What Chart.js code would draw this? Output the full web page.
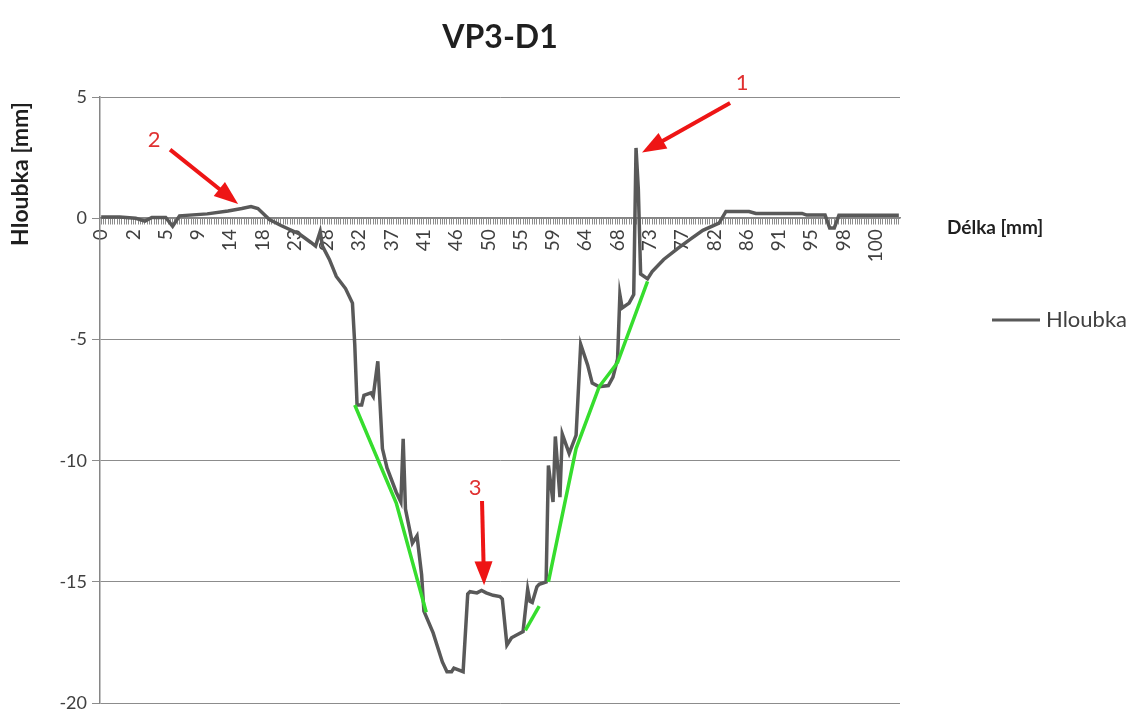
<!DOCTYPE html>
<html>
<head>
<meta charset="utf-8">
<title>VP3-D1</title>
<script src="https://cdn.jsdelivr.net/npm/chart.js@4.4.1/dist/chart.umd.min.js"></script>
<style>
  html, body { margin: 0; padding: 0; background: #ffffff; }
  #wrap { width: 1132px; height: 719px; position: relative; }
</style>
</head>
<body>
<div id="wrap"><canvas id="chart"></canvas></div>
<script>
// Horizontal axis: one sample per tick mark, a distance label every 14 samples
const sampleCount = 347;
const labelEvery = 14;
const distanceLabels = ['0', '2', '5', '9', '14', '18', '23', '28', '32', '37', '41', '46', '50',
  '55', '59', '64', '68', '73', '77', '82', '86', '91', '95', '98', '100'];

// Depth profile "Hloubka" (sample index, depth in mm)
const profileIdx = [0, 8, 15, 19, 22, 28, 31, 34, 46, 55, 61, 65, 68, 73, 78, 86, 91, 93, 95, 96,
  99, 102, 106, 109, 110, 111, 113, 114, 117, 118, 120, 122, 124, 128, 130, 131, 132, 135, 137, 139,
  140, 144, 146, 148, 150, 152, 153, 157, 159, 160, 163, 165, 167, 170, 173, 174, 176, 178, 180, 183,
  185, 186, 187, 189, 190, 193, 194, 196, 197, 199, 200, 203, 206, 208, 211, 213, 216, 220, 222, 224,
  225, 226, 229, 231, 232, 233, 234, 237, 239, 244, 250, 255, 261, 268, 271, 281, 284, 304, 306, 314,
  316, 318, 320, 346];
const profileDepth = [0.05, 0.05, 0.0, -0.12, 0.03, 0.03, -0.33, 0.1, 0.18, 0.3, 0.4, 0.48, 0.4, -0.05, -0.3, -0.65, -1.0, -1.15, -0.55, -1.15,
  -1.7, -2.4, -2.9, -3.5, -5.2, -7.7, -7.7, -7.3, -7.2, -7.35, -5.9, -9.5, -10.3, -11.3, -11.7, -9.1, -12.0, -13.4, -13.1, -14.7,
  -16.2, -17.1, -17.7, -18.3, -18.7, -18.7, -18.55, -18.7, -15.5, -15.4, -15.45, -15.35, -15.45, -15.55, -15.6, -15.7, -17.6, -17.3, -17.2, -17.05,
  -15.3, -15.8, -15.85, -15.2, -15.1, -15.0, -10.2, -11.7, -9.0, -11.5, -8.9, -9.7, -8.95, -5.2, -6.05, -6.8, -6.95, -6.9, -6.55, -5.8,
  -3.15, -3.7, -3.5, -3.15, 2.9, 1.2, -2.3, -2.5, -2.2, -1.7, -1.25, -0.9, -0.5, -0.2, 0.28, 0.28, 0.2, 0.2, 0.13, 0.13,
  -0.4, -0.4, 0.12, 0.12];

// Slope lines fitted along the groove flanks
const slopeLeftIdx = [110, 128, 141];
const slopeLeftDepth = [-7.7, -11.75, -16.25];
const slopeFloorIdx = [184, 190];
const slopeFloorDepth = [-17.0, -16.0];
const slopeRightIdx = [194, 206, 216, 224, 237];
const slopeRightDepth = [-15.0, -9.5, -6.95, -5.95, -2.6];

// Numbered callouts: label position, arrow tail and arrow tip (sample index / depth)
const calloutText = ['1', '2', '3'];
const calloutLabelIdx = [278, 23, 162.2];
const calloutLabelDepth = [5.6, 3.25, -11.14];
const calloutTailIdx = [272.8, 29.9, 165.2];
const calloutTailDepth = [4.75, 2.83, -11.66];
const calloutTipIdx = [234.6, 59.4, 166.1];
const calloutTipDepth = [2.71, 0.59, -15.14];

const FONT = 'Lato, "Open Sans", "Liberation Sans", sans-serif';
const TEXT = '#404040';
const DARK = '#1f1f1f';
const GRID = '#8c8c8c';

const toPoints = (xs, ys) => xs.map((x, i) => ({ x: x, y: ys[i] }));

// Title, axis titles, legend entry and numbered arrows
const decorations = {
  id: 'decorations',
  afterDatasetsDraw(chart) {
    const ctx = chart.ctx;
    const xs = chart.scales.x, ys = chart.scales.y;

    ctx.save();
    for (let i = 0; i < calloutText.length; i++) {
      const tx = xs.getPixelForValue(calloutTailIdx[i]), ty = ys.getPixelForValue(calloutTailDepth[i]);
      const px = xs.getPixelForValue(calloutTipIdx[i]), py = ys.getPixelForValue(calloutTipDepth[i]);
      const dx = px - tx, dy = py - ty, len = Math.hypot(dx, dy);
      const ux = dx / len, uy = dy / len;
      const head = 24, half = 9;
      const bx = px - ux * head, by = py - uy * head;
      ctx.strokeStyle = '#ee1515';
      ctx.fillStyle = '#ee1515';
      ctx.lineWidth = 4;
      ctx.lineCap = 'butt';
      ctx.beginPath();
      ctx.moveTo(tx, ty);
      ctx.lineTo(bx + ux * 2, by + uy * 2);
      ctx.stroke();
      ctx.beginPath();
      ctx.moveTo(px, py);
      ctx.lineTo(bx - uy * half, by + ux * half);
      ctx.lineTo(bx + uy * half, by - ux * half);
      ctx.closePath();
      ctx.fill();

      ctx.fillStyle = '#e03030';
      ctx.font = '22px ' + FONT;
      ctx.textAlign = 'center';
      ctx.textBaseline = 'middle';
      ctx.fillText(calloutText[i], xs.getPixelForValue(calloutLabelIdx[i]), ys.getPixelForValue(calloutLabelDepth[i]));
    }
    ctx.restore();
  },
  afterDraw(chart) {
    const ctx = chart.ctx;
    const ys = chart.scales.y;
    const area = chart.chartArea;
    ctx.save();

    // chart title, centred over the plot area
    ctx.fillStyle = DARK;
    ctx.font = 'bold 32px ' + FONT;
    ctx.textAlign = 'center';
    ctx.textBaseline = 'middle';
    ctx.fillText('VP3-D1', (area.left + area.right) / 2, 38);

    // vertical axis title, rotated
    ctx.font = 'bold 23px ' + FONT;
    ctx.save();
    ctx.translate(21, 174);
    ctx.rotate(-Math.PI / 2);
    ctx.fillText('Hloubka [mm]', 0, 0);
    ctx.restore();

    // horizontal axis title, next to the end of the axis
    ctx.font = 'bold 19px ' + FONT;
    ctx.textAlign = 'left';
    ctx.fillText('Délka [mm]', area.right + 47, ys.getPixelForValue(0) + 10);

    // legend entry for the profile series
    const ds = chart.data.datasets[0];
    const ly = 320;
    ctx.strokeStyle = ds.borderColor;
    ctx.lineWidth = 3;
    ctx.beginPath();
    ctx.moveTo(area.right + 92, ly);
    ctx.lineTo(area.right + 140, ly);
    ctx.stroke();
    ctx.fillStyle = TEXT;
    ctx.font = '22px ' + FONT;
    ctx.fillText(ds.label, area.right + 146, ly);
    ctx.restore();
  }
};

new Chart(document.getElementById('chart'), {
  type: 'line',
  data: {
    datasets: [
      {
        label: 'Hloubka',
        data: toPoints(profileIdx, profileDepth),
        borderColor: '#595959',
        borderWidth: 3.5,
        pointRadius: 0,
        tension: 0,
        order: 2
      },
      {
        label: 'slope-left',
        data: toPoints(slopeLeftIdx, slopeLeftDepth),
        borderColor: '#36dd2e',
        borderWidth: 3.5,
        pointRadius: 0,
        order: 1
      },
      {
        label: 'slope-floor',
        data: toPoints(slopeFloorIdx, slopeFloorDepth),
        borderColor: '#36dd2e',
        borderWidth: 3.5,
        pointRadius: 0,
        order: 1
      },
      {
        label: 'slope-right',
        data: toPoints(slopeRightIdx, slopeRightDepth),
        borderColor: '#36dd2e',
        borderWidth: 3.5,
        pointRadius: 0,
        order: 1
      }
    ]
  },
  options: {
    responsive: true,
    maintainAspectRatio: false,
    animation: false,
    layout: { padding: { left: 0, right: 232, top: 97, bottom: 10 } },
    plugins: {
      legend: { display: false },
      tooltip: { enabled: false },
      title: { display: false }
    },
    scales: {
      x: {
        type: 'linear',
        position: { y: 0 },
        min: -0.5,
        max: sampleCount - 0.5,
        afterBuildTicks(scale) {
          scale.ticks = Array.from({ length: sampleCount }, (_, i) => ({ value: i }));
        },
        afterFit(scale) { scale.height = 0; },
        ticks: {
          autoSkip: false,
          minRotation: 90,
          maxRotation: 90,
          padding: 5,
          color: TEXT,
          font: { family: FONT, size: 19 },
          callback(value) {
            return value % labelEvery === 0 ? (distanceLabels[value / labelEvery] || '') : '';
          }
        },
        grid: {
          drawOnChartArea: false,
          drawTicks: true,
          tickLength: 6,
          color: GRID,
          lineWidth: 1
        },
        border: { display: true, color: '#868686', width: 1.5 }
      },
      y: {
        min: -20,
        max: 5,
        afterFit(scale) { scale.width = 100; },
        ticks: {
          stepSize: 5,
          padding: 5,
          color: TEXT,
          font: { family: FONT, size: 18 }
        },
        grid: {
          color: GRID,
          lineWidth: 1,
          tickLength: 8
        },
        border: { display: true, color: '#868686', width: 1.5 }
      }
    }
  },
  plugins: [decorations]
});
</script>
</body>
</html>
